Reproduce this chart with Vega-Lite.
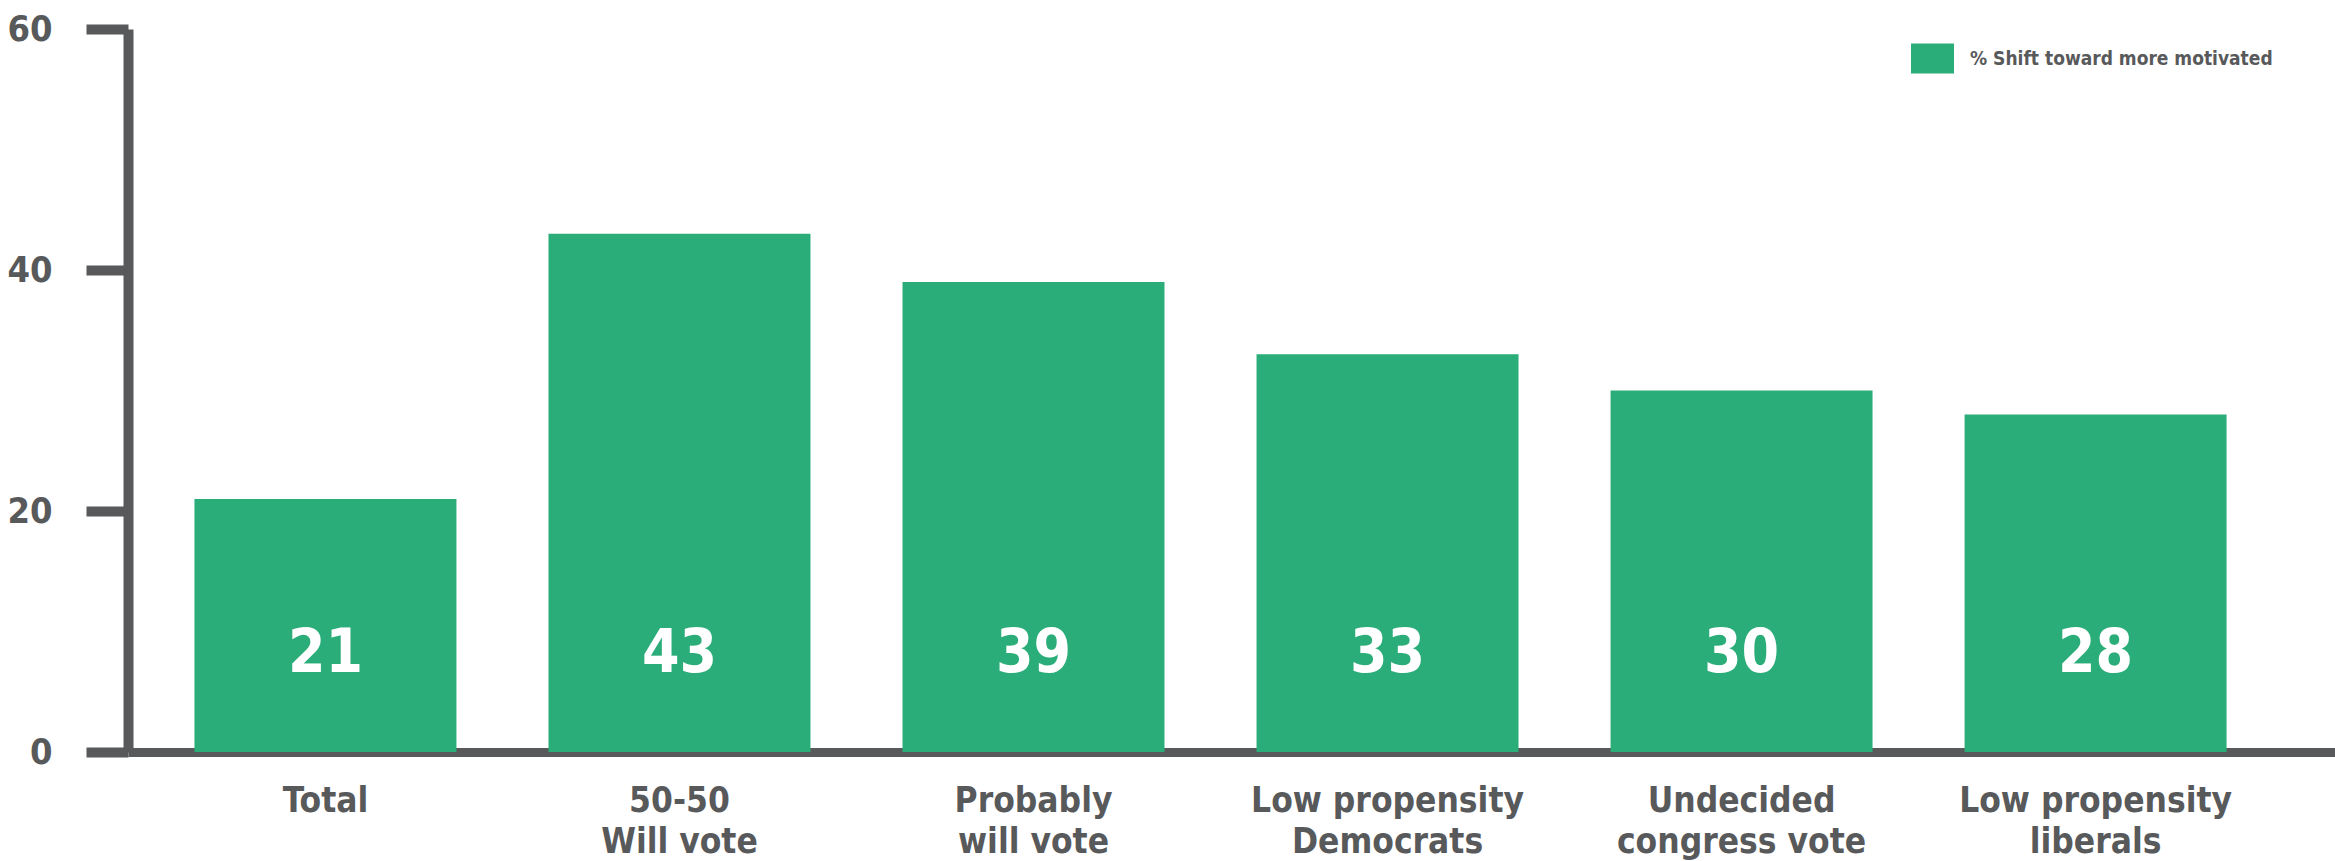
{
  "$schema": "https://vega.github.io/schema/vega-lite/v6.json",
  "autosize": "none",
  "width": 2207,
  "height": 723,
  "padding": {"left": 128, "top": 29, "right": 0, "bottom": 110},
  "background": "white",
  "config": {
    "view": {"stroke": null},
    "font": "DejaVu Sans Condensed, sans-serif"
  },
  "data": {
    "values": [
      {"group": "Total", "value": 21, "series": "% Shift toward more motivated"},
      {"group": "50-50|Will vote", "value": 43, "series": "% Shift toward more motivated"},
      {"group": "Probably|will vote", "value": 39, "series": "% Shift toward more motivated"},
      {"group": "Low propensity|Democrats", "value": 33, "series": "% Shift toward more motivated"},
      {"group": "Undecided|congress vote", "value": 30, "series": "% Shift toward more motivated"},
      {"group": "Low propensity|liberals", "value": 28, "series": "% Shift toward more motivated"}
    ]
  },
  "encoding": {
    "x": {
      "field": "group",
      "type": "nominal",
      "sort": null,
      "title": null,
      "scale": {"paddingInner": 0.26, "paddingOuter": 0.247, "align": 0.38},
      "axis": {
        "labelAngle": 0,
        "labelExpr": "split(datum.label, '|')",
        "labelFont": "DejaVu Sans Condensed, sans-serif",
        "labelFontSize": 35,
        "labelFontWeight": "bold",
        "labelColor": "#58595b",
        "labelLineHeight": 41,
        "labelPadding": 31,
        "labelBaseline": "top",
        "labelLimit": 600,
        "ticks": false,
        "domainColor": "#58595b",
        "domainWidth": 9
      }
    }
  },
  "layer": [
    {
      "mark": {"type": "bar"},
      "encoding": {
        "y": {
          "field": "value",
          "type": "quantitative",
          "title": null,
          "scale": {"domain": [0, 60], "nice": false},
          "axis": {
            "values": [0, 20, 40, 60],
            "grid": false,
            "labelFont": "DejaVu Sans Condensed, sans-serif",
            "labelFontSize": 36,
            "labelFontWeight": "bold",
            "labelColor": "#58595b",
            "labelPadding": 34,
            "tickSize": 42,
            "tickWidth": 10,
            "tickColor": "#58595b",
            "domainColor": "#58595b",
            "domainWidth": 10
          }
        },
        "color": {
          "field": "series",
          "type": "nominal",
          "scale": {"range": ["#2aad79"]},
          "legend": {
            "title": null,
            "orient": "none",
            "legendX": 1783,
            "legendY": 8,
            "padding": 0,
            "symbolType": "M-1,-0.7H1V0.7H-1Z",
            "symbolSize": 1849,
            "symbolOpacity": 1,
            "symbolStrokeWidth": 0,
            "labelFont": "DejaVu Sans Condensed, sans-serif",
            "labelFontSize": 19,
            "labelFontWeight": "bold",
            "labelColor": "#58595b",
            "labelOffset": 16,
            "labelLimit": 500
          }
        }
      }
    },
    {
      "mark": {
        "type": "text",
        "color": "white",
        "fontSize": 60,
        "fontWeight": "bold",
        "baseline": "alphabetic",
        "dy": -80
      },
      "encoding": {
        "y": {"datum": 0, "type": "quantitative"},
        "text": {"field": "value", "type": "quantitative"}
      }
    }
  ]
}
